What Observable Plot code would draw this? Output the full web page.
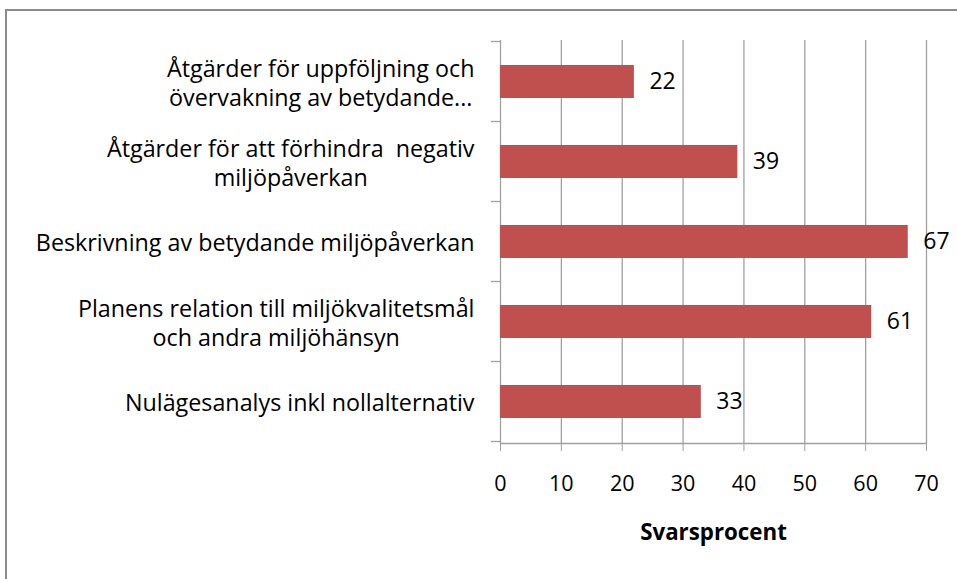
<!DOCTYPE html>
<html><head><meta charset="utf-8">
<script src="https://cdn.jsdelivr.net/npm/d3@7"></script>
<script src="https://cdn.jsdelivr.net/npm/@observablehq/plot@0.6"></script>
<style>
html,body{margin:0;padding:0;background:#fff;overflow:hidden}
#wrap{position:relative;width:957px;height:579px;overflow:hidden}
#border{position:absolute;left:5px;top:9px;width:980px;height:620px;border-top:2px solid #8c8c8c;border-left:2px solid #8c8c8c;box-sizing:border-box}
#chart{position:absolute;left:0;top:0}
</style></head><body>
<div id="wrap"><div id="border"></div><div id="chart"></div></div>
<script>
const categories = [
  "Åtgärder för uppföljning och\növervakning av betydande...",
  "Åtgärder för att förhindra  negativ\nmiljöpåverkan",
  "Beskrivning av betydande miljöpåverkan",
  "Planens relation till miljökvalitetsmål\noch andra miljöhänsyn",
  "Nulägesanalys inkl nollalternativ"
];
const values = [22, 39, 67, 61, 33];
const xTicks = [0, 10, 20, 30, 40, 50, 60, 70];
const xLabel = "Svarsprocent";

const data = categories.map((c, i) => ({category: c, value: values[i]}));
const font = "'Open Sans', Lato, sans-serif";
const gridColor = "#a0a0a0";
const fs = 21.5;

const plot = Plot.plot({
  width: 957, height: 579,
  marginLeft: 500, marginRight: 31, marginTop: 40, marginBottom: 136,
  style: {fontFamily: font, fontSize: fs + "px", background: "transparent", color: "#000"},
  x: {domain: [0, 70], ticks: xTicks},
  y: {domain: categories, paddingInner: 0.59, paddingOuter: 0.295},
  marks: [
    Plot.ruleX(xTicks, {stroke: gridColor, strokeWidth: 1.3}),
    Plot.frame({anchor: "bottom", stroke: gridColor, strokeWidth: 1.3}),
    Plot.barX(data, {x: "value", y: "category", fill: "#C0504D"}),
    Plot.text(data, {x: "value", y: "category", text: d => String(d.value), textAnchor: "start", dx: 15, fontSize: 23, fill: "#000"}),
    Plot.axisX({ticks: xTicks, tickSize: 8, tickPadding: 24, fontSize: fs, label: null, stroke: gridColor}),
    Plot.axisY({tickSize: 0, tickPadding: 26, fontSize: 23.3, lineHeight: 1.26, label: null}),
    Plot.text([xLabel], {text: d => d, frameAnchor: "bottom", dy: 96, fontWeight: "bold", fontSize: 22.3})
  ]
});
document.getElementById("chart").append(plot);

// center multi-line category labels (block right-aligned to the axis)
d3.select(plot).selectAll('g[aria-label="y-axis tick label"] text').each(function() {
  const tspans = this.querySelectorAll("tspan");
  if (tspans.length < 2) return;
  let w = 0;
  tspans.forEach(t => { w = Math.max(w, t.getComputedTextLength()); });
  this.setAttribute("text-anchor", "middle");
  tspans.forEach(t => t.setAttribute("x", -w / 2));
});

// category boundary tick marks on the left axis
const ys = plot.scale("y");
const x0 = plot.scale("x").apply(0);
const bounds = categories.map(c => ys.apply(c) + ys.bandwidth / 2 - ys.step / 2);
bounds.push(ys.apply(categories[categories.length - 1]) + ys.bandwidth / 2 + ys.step / 2);
d3.select(plot).append("g").attr("stroke", gridColor).attr("stroke-width", 1.3)
  .selectAll("line").data(bounds).join("line")
  .attr("x1", x0 - 9).attr("x2", x0).attr("y1", d => d).attr("y2", d => d);
</script>
</body></html>
